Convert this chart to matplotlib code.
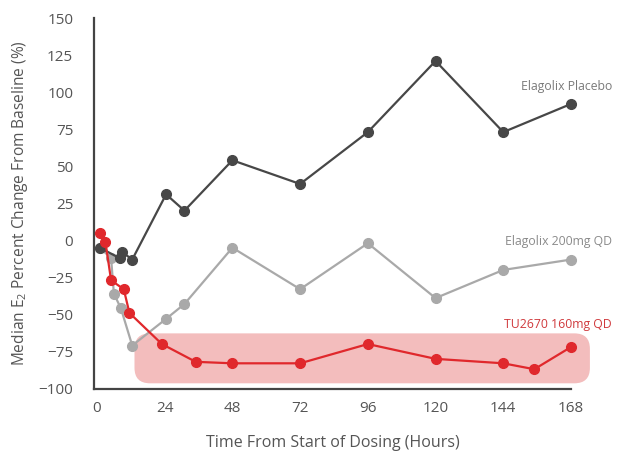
import matplotlib
matplotlib.use("Agg")
import matplotlib.pyplot as plt
from matplotlib.patches import FancyBboxPatch

# ── data ─────────────────────────────────────────────────────
placebo_hours = [1, 8, 9, 12.5, 24.5, 31, 48, 72, 96, 120, 144, 168]
placebo_pct   = [-5, -12, -8, -13, 31, 20, 54, 38, 73, 121, 73, 92]

ela200_hours = [1, 5, 6, 8.5, 12.5, 24.5, 31, 48, 72, 96, 120, 144, 168]
ela200_pct   = [-5, -12, -36, -46, -71, -53, -43, -5, -33, -2, -39, -20, -13]

tu_hours = [1, 3, 5, 9.5, 11.5, 23, 35, 48, 72, 96, 120, 144, 155, 168]
tu_pct   = [5, -1, -27, -33, -49, -70, -82, -83, -83, -70, -80, -83, -87, -72]

x_ticks = [0, 24, 48, 72, 96, 120, 144, 168]
y_ticks = [150, 125, 100, 75, 50, 25, 0, -25, -50, -75, -100]

# colours
C_PLACEBO = "#474747"
C_ELA = "#a9a9a9"
C_TU = "#e0282c"
C_BAND = "#f3bdbd"
C_TEXT = "#555555"

plt.rcParams["font.family"] = ["Open Sans", "DejaVu Sans"]
plt.rcParams["mathtext.default"] = "regular"

fig = plt.figure(figsize=(6.22, 4.61), dpi=100)
ax = fig.add_axes([94 / 622, 1 - 388.5 / 461, (571 - 94) / 622, (388.5 - 18) / 461])

# highlight band behind the TU2670 curve
band = FancyBboxPatch((13.3, -96.5), 174.7 - 13.3, 96.5 - 62.8,
                      boxstyle="round,pad=0,rounding_size=5.5",
                      mutation_aspect=1.9, facecolor=C_BAND,
                      edgecolor="none", zorder=1, clip_on=False)
ax.add_patch(band)

line_kw = dict(lw=1.6, marker="o", markersize=7, clip_on=False)
ax.plot(ela200_hours, ela200_pct, color=C_ELA, zorder=2, **line_kw)
ax.plot(placebo_hours, placebo_pct, color=C_PLACEBO, zorder=3, **line_kw)
ax.plot(tu_hours, tu_pct, color=C_TU, zorder=4, **line_kw)

# series labels
ax.text(182.5, 104, "Elagolix Placebo", color="#7a7a7a", fontsize=8.8,
        ha="right", va="center")
ax.text(182.5, -1, "Elagolix 200mg QD", color="#8a8a8a", fontsize=8.8,
        ha="right", va="center")
ax.text(182.5, -57, "TU2670 160mg QD", color="#d0393c", fontsize=8.8,
        ha="right", va="center")

ax.set_xlim(-1.05, 166.3)
ax.set_ylim(-100, 150)
ax.set_xticks(x_ticks)
ax.set_yticks(y_ticks)
ax.tick_params(length=0, labelsize=11, labelcolor=C_TEXT)
ax.tick_params(axis="x", pad=9)
ax.tick_params(axis="y", pad=15)

for side in ["top", "right"]:
    ax.spines[side].set_visible(False)
for side in ["left", "bottom"]:
    ax.spines[side].set_color("#444444")
    ax.spines[side].set_linewidth(1.6)

ax.set_xlabel("Time From Start of Dosing (Hours)", fontsize=11.5,
              color=C_TEXT, labelpad=14)
ax.set_ylabel("Median E$_2$ Percent Change From Baseline (%)", fontsize=11.2,
              color=C_TEXT, labelpad=6)

fig.savefig("out.png", dpi=100)
